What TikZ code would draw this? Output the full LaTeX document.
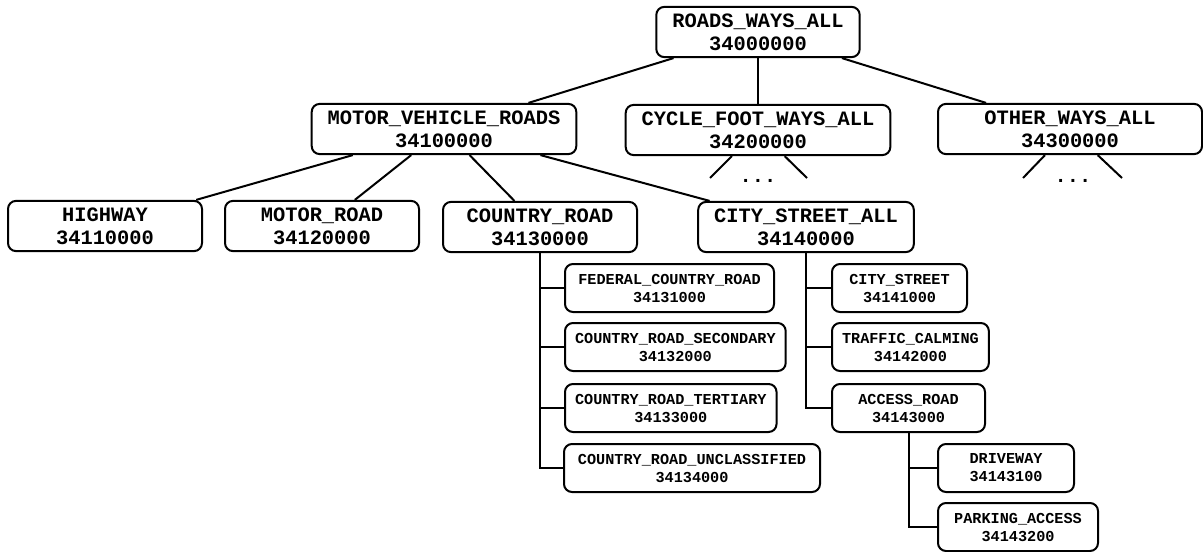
\documentclass[tikz,border=0pt]{standalone}
\usepackage{fontspec}
\setmonofont{Liberation Mono}

\begin{document}
\begin{tikzpicture}[x=0.5pt,y=-0.5pt,line width=1pt,
  big/.style={draw, rounded corners=4pt, align=center,
    font=\ttfamily\bfseries\fontsize{10.2}{11.5}\selectfont,
    inner xsep=8pt, minimum width=97pt, minimum height=24.5pt},
  wide/.style={big, minimum width=132pt},
  small/.style={draw, rounded corners=4pt, align=center,
    font=\ttfamily\bfseries\fontsize{7.6}{9}\selectfont,
    inner xsep=5pt, minimum height=24pt, anchor=west},
  dots/.style={font=\ttfamily\bfseries\fontsize{10.2}{11.5}\selectfont}]
\useasboundingbox (0,0) rectangle (1203,551);

% top and second level
\node[big] (rwa) at (758,32) {ROADS\_WAYS\_ALL\\34000000};
\node[wide] (mvr) at (444,129) {MOTOR\_VEHICLE\_ROADS\\34100000};
\node[wide] (cfw) at (758,130) {CYCLE\_FOOT\_WAYS\_ALL\\34200000};
\node[wide] (owa) at (1070,129) {OTHER\_WAYS\_ALL\\34300000};
\path[draw,-] (rwa) -- (mvr);
\path[draw,-] (rwa) -- (cfw);
\path[draw,-] (rwa) -- (owa);

% open ends
\coordinate (c1) at (710,178);
\coordinate (c2) at (807,178);
\coordinate (o1) at (1023,178);
\coordinate (o2) at (1122,178);
\node[dots] (cdots) at (758,181) {...};
\node[dots] (odots) at (1073,181) {...};
\path[draw,-] (cfw) -- (c1);
\path[draw,-] (cfw) -- (c2);
\path[draw,-] (owa) -- (o1);
\path[draw,-] (owa) -- (o2);

% third level
\node[big] (hw) at (105,226) {HIGHWAY\\34110000};
\node[big] (mr) at (322,226) {MOTOR\_ROAD\\34120000};
\node[big] (cr) at (540,227) {COUNTRY\_ROAD\\34130000};
\node[big] (csa) at (806,227) {CITY\_STREET\_ALL\\34140000};
\path[draw,-] (mvr) -- (hw);
\path[draw,-] (mvr) -- (mr);
\path[draw,-] (mvr) -- (cr);
\path[draw,-] (mvr) -- (csa);

% country roads
\node[small, minimum width=104.5pt] (fed) at (564,288) {FEDERAL\_COUNTRY\_ROAD\\34131000};
\node[small] (sec) at (564,347) {COUNTRY\_ROAD\_SECONDARY\\34132000};
\node[small] (ter) at (564,408) {COUNTRY\_ROAD\_TERTIARY\\34133000};
\node[small, minimum width=128pt] (unc) at (563,468) {COUNTRY\_ROAD\_UNCLASSIFIED\\34134000};
\path[draw,-] (cr.south) |- (fed.west);
\path[draw,-] (cr.south) |- (sec.west);
\path[draw,-] (cr.south) |- (ter.west);
\path[draw,-] (cr.south) |- (unc.west);

% city streets
\node[small, minimum width=67.5pt] (cs) at (831,288) {CITY\_STREET\\34141000};
\node[small] (tc) at (831,347) {TRAFFIC\_CALMING\\34142000};
\node[small, minimum width=76.5pt] (ar) at (831,408) {ACCESS\_ROAD\\34143000};
\path[draw,-] (csa.south) |- (cs.west);
\path[draw,-] (csa.south) |- (tc.west);
\path[draw,-] (csa.south) |- (ar.west);

% access roads
\node[small, minimum width=68pt] (dw) at (937,468) {DRIVEWAY\\34143100};
\node[small, minimum width=80pt] (pa) at (937,527) {PARKING\_ACCESS\\34143200};
\path[draw,-] (ar.south) |- (dw.west);
\path[draw,-] (ar.south) |- (pa.west);
\end{tikzpicture}
\end{document}
